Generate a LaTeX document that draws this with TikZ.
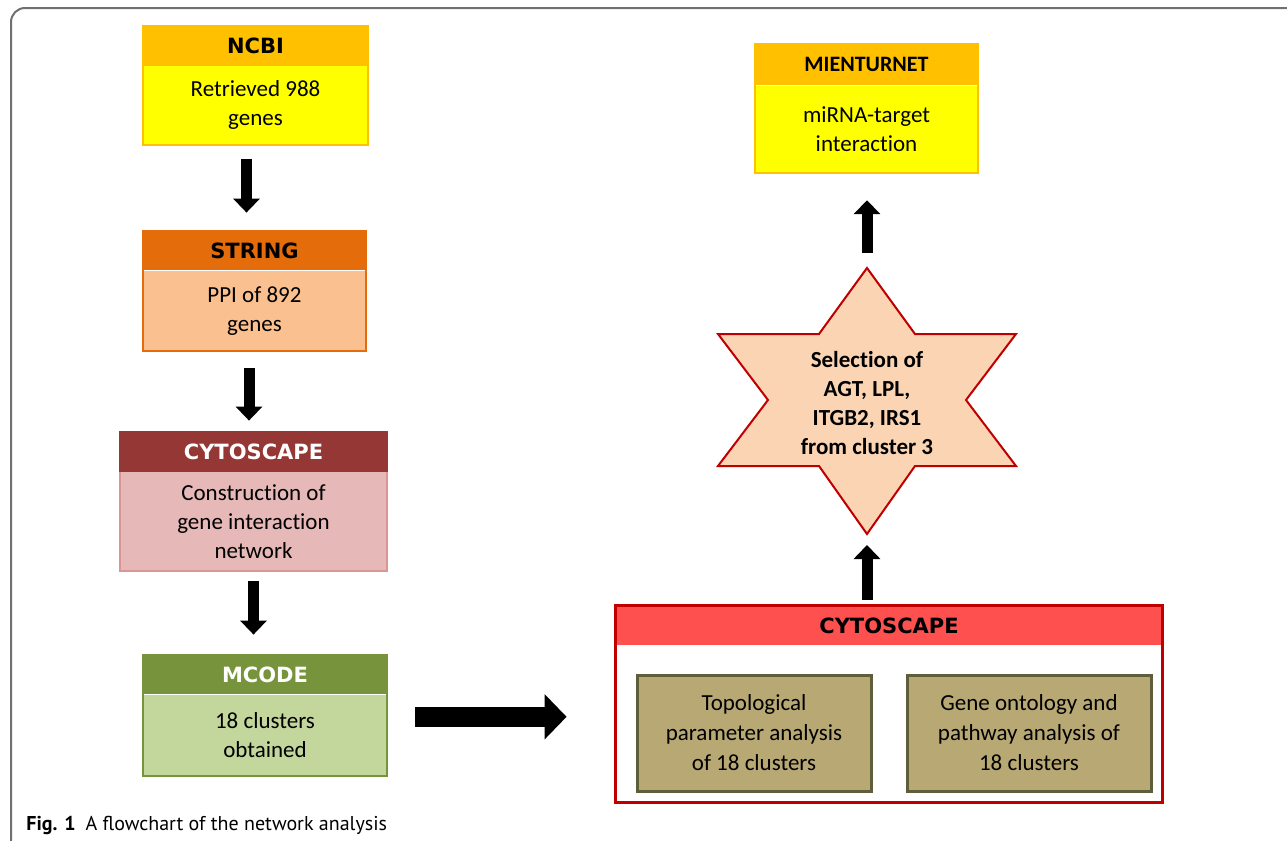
\documentclass[tikz,border=0pt]{standalone}
\usepackage{fontspec}
\setmainfont{Carlito}[Ligatures=NoCommon]
\newfontfamily\hdfont{DejaVu Sans}
\newfontfamily\capfont{PT Sans}
\usetikzlibrary{positioning,arrows.meta}

\definecolor{ncbihead}{HTML}{FFC000}
\definecolor{ncbibody}{HTML}{FFFF00}
\definecolor{stringhead}{HTML}{E46C0A}
\definecolor{stringbody}{HTML}{FAC090}
\definecolor{cytohead}{HTML}{953735}
\definecolor{cytobody}{HTML}{E6B9B8}
\definecolor{cytoline}{HTML}{D99694}
\definecolor{mcodehead}{HTML}{77933C}
\definecolor{mcodebody}{HTML}{C3D69B}
\definecolor{redhead}{HTML}{FF5050}
\definecolor{redline}{HTML}{C00000}
\definecolor{starfill}{HTML}{FBD4B4}
\definecolor{olivefill}{HTML}{B8A874}
\definecolor{oliveline}{HTML}{5E5E3A}
\definecolor{framegray}{HTML}{707070}

\tikzset{
  boxhead/.style={fill=#1, inner sep=0pt, minimum height=19.5pt,
    font=\hdfont\bfseries\fontsize{10.5}{12}\selectfont},
  boxbody/.style={fill=#1, inner sep=0pt, align=center,
    font=\fontsize{11.5}{14.5}\selectfont},
  analysis/.style={fill=olivefill, draw=oliveline, line width=1.5pt, inner sep=0pt,
    minimum height=58pt, align=center, font=\fontsize{11.5}{15}\selectfont},
  bigarrow/.style={line width=5.5pt, -{Triangle[width=13pt,length=7pt]}},
  widearrow/.style={line width=10pt, -{Triangle[width=22pt,length=11pt]}},
}

\begin{document}
\begin{tikzpicture}[x=0.5pt,y=-0.5pt]
\useasboundingbox (0,0) rectangle (1287,841);
\draw[framegray, line width=1pt, rounded corners=7pt] (11,841) -- (11,8) -- (1287,8);

% left column
\node[boxhead=ncbihead, minimum width=112.5pt] (ncbih) at (255.5,46) {NCBI};
\node[boxbody=ncbibody, minimum width=112.5pt, minimum height=39pt, below=0pt of ncbih] (ncbi) {Retrieved 988\\genes};
\draw[ncbihead, line width=1pt] (ncbih.north west) rectangle (ncbi.south east);

\node[boxhead=stringhead, minimum width=111.5pt] (stringh) at (254.5,250.5) {STRING};
\node[boxbody=stringbody, minimum width=111.5pt, minimum height=40pt, below=0pt of stringh] (string) {PPI of 892\\genes};
\draw[stringhead, line width=1pt] (stringh.north west) rectangle (string.south east);

\node[boxhead=cytohead, text=white, minimum width=133.5pt] (cytoh) at (253.5,451.5) {CYTOSCAPE};
\node[boxbody=cytobody, minimum width=133.5pt, minimum height=49.5pt, below=0pt of cytoh] (cyto) {Construction of\\gene interaction\\network};
\draw[cytoline, line width=1pt] (cytoh.south west) -- (cyto.south west) -- (cyto.south east) -- (cytoh.south east);
\draw[cytohead, line width=1pt] (cytoh.south west) rectangle (cytoh.north east);

\node[boxhead=mcodehead, text=white, minimum width=122pt] (mcodeh) at (265,674.5) {MCODE};
\node[boxbody=mcodebody, minimum width=122pt, minimum height=40.5pt, below=0pt of mcodeh] (mcode) {18 clusters\\obtained};
\draw[mcodehead, line width=1pt] (mcodeh.north west) rectangle (mcode.south east);

% right column
\node[boxhead=ncbihead, minimum width=111.5pt, minimum height=20.5pt,
  font=\bfseries\fontsize{11}{13}\selectfont] (mienh) at (866.5,64.5) {MIENTURNET};
\node[boxbody=ncbibody, minimum width=111.5pt, minimum height=43.5pt, below=0pt of mienh] (mien) {miRNA-target\\interaction};
\draw[ncbihead, line width=1pt] (mienh.north west) rectangle (mien.south east);

\draw[redline, fill=starfill, line width=1pt] (867,268) -- (915,334) -- (1016,334) -- (966,400)
  -- (1016,466) -- (915,466) -- (867,534) -- (819,466) -- (718,466) -- (768,400)
  -- (718,334) -- (819,334) -- cycle;
\node[align=center, font=\bfseries\fontsize{11.5}{14.5}\selectfont] (sel) at (867,403) {Selection of\\AGT, LPL,\\ITGB2, IRS1\\from cluster 3};
\coordinate (seltop) at (867,268);
\coordinate (selbot) at (867,534);

\node[boxhead=redhead, minimum width=273pt] (cyto2h) at (889,625.5) {CYTOSCAPE};
\node[boxbody=white, minimum width=273pt, minimum height=78pt, below=0pt of cyto2h] (cyto2) {};
\draw[redline, line width=1.5pt] (cyto2h.north west) rectangle (cyto2.south east);
\node[analysis, minimum width=117pt] (topo) at (754,733) {Topological\\parameter analysis\\of 18 clusters};
\node[analysis, minimum width=122pt] (onto) at (1029,733) {Gene ontology and\\pathway analysis of\\18 clusters};

% arrows
\draw[bigarrow, shorten <=7pt, shorten >=9pt] ([xshift=-4.5pt]ncbi.south) -- ([xshift=-4.5pt]ncbi.south |- stringh.north);
\draw[bigarrow, shorten <=8.5pt, shorten >=5.5pt] ([xshift=-2.75pt]string.south) -- ([xshift=-2.75pt]string.south |- cytoh.north);
\draw[bigarrow, shorten <=5pt, shorten >=10pt] (cyto.south) -- (cyto.south |- mcodeh.north);
\draw[widearrow, shorten <=14pt, shorten >=24.5pt] ([yshift=9.25pt]mcode.east) -- ([yshift=9.25pt]mcode.east -| cyto2.west);
\draw[bigarrow, shorten <=3pt, shorten >=5.5pt] (selbot |- cyto2h.north) -- (selbot);
\draw[bigarrow, shorten <=7.5pt, shorten >=13.5pt] (seltop) -- (seltop |- mien.south);

\node[anchor=base west, inner sep=0pt, font=\capfont\fontsize{10}{12}\selectfont] (caption) at (26,830)
  {\textbf{Fig. 1}\hspace{5pt}A flowchart of the network analysis};
\end{tikzpicture}
\end{document}
